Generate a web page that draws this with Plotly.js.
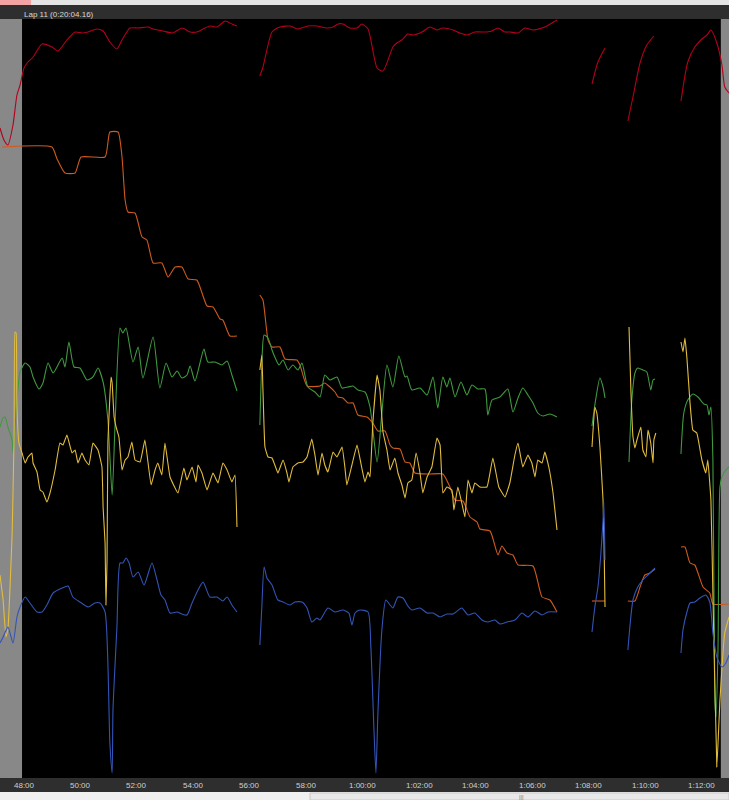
<!DOCTYPE html>
<html>
<head>
<meta charset="utf-8">
<script src="https://cdn.plot.ly/plotly-3.0.1.min.js"></script>
<style>
html,body{margin:0;padding:0;background:#2d2d2d;overflow:hidden;}
#chart{width:729px;height:800px;}
</style>
</head>
<body>
<div id="chart"></div>
<script>
// Session time in minutes; values in normalised channel units (0 = bottom, 759 = top of graph)
const tickMinutes = [48,50,52,54,56,58,60,62,64,66,68,70,72];
const tickLabels = ['48:00','50:00','52:00','54:00','56:00','58:00','1:00:00','1:02:00','1:04:00','1:06:00','1:08:00','1:10:00','1:12:00'];
const lapLabel = 'Lap 11 (0:20:04.16)';

// Red channel (speed)
const redT = [47.15,47.29,47.43,47.61,47.75,47.86,48.00,48.11,48.32,48.64,48.99,49.20,49.52,49.81,50.05,50.27,50.58,50.80,51.04,51.29,51.47,51.75,52.04,52.39,52.57,52.92,53.27,53.59,53.88,54.12,54.34,54.58,54.83,55.12,55.36,55.54,
 55.9,
 56.35,56.46,56.78,57.06,57.42,57.70,58.05,58.37,58.73,58.94,59.12,59.29,59.54,59.79,59.96,60.18,60.50,60.71,61.06,61.20,61.38,61.59,61.77,62.09,62.37,62.62,62.83,63.19,63.43,63.68,63.96,64.39,64.57,64.78,65.03,65.20,65.49,65.73,66.02,66.34,66.51,66.87,
 67.5,
 68.11,68.32,68.57,
 69.0,
 69.38,69.56,69.81,70.05,70.30,
 70.8,
 71.26,71.50,71.75,72.00,72.18,72.32,72.53,72.71,72.81,72.96];
const redV = [650,638,633,653,683,693,710,715,721,734,731,727,738,746,745,746,749,747,736,729,738,750,750,751,749,747,745,750,746,746,749,752,751,757,754,752,
 null,
 702,711,746,751,752,749,752,752,750,751,754,754,750,750,754,749,710,707,731,735,738,744,743,746,751,748,750,748,745,743,746,746,747,750,746,746,745,750,748,750,752,758,
 null,
 694,716,730,
 null,
 657,681,715,733,742,
 null,
 677,716,731,739,743,748,735,713,691,685];

// Orange channel (stepped)
const orangeT = [47.22,48.99,49.17,49.45,49.81,50.02,50.87,51.04,51.33,51.47,51.58,51.68,51.93,52.18,52.35,52.57,52.88,53.10,53.35,53.59,53.81,54.12,54.48,54.69,54.94,55.04,55.29,55.54,
 55.9,
 56.35,56.46,56.64,56.78,57.06,57.24,57.66,57.77,58.02,58.48,58.65,58.83,59.01,59.12,59.29,59.47,59.65,59.82,60.14,60.35,60.53,60.78,60.96,61.06,61.31,61.49,61.66,61.84,62.37,62.83,63.08,63.26,63.54,63.79,64.04,64.14,64.50,64.78,64.92,65.10,65.31,65.49,66.02,66.34,66.62,66.87,
 67.5,
 68.11,68.57,
 69.0,
 69.38,69.63,69.81,69.98,70.16,70.34,
 70.8,
 71.26,71.40,71.58,71.75,72.04,72.28,72.39,72.96];
const orangeV = [631,631,619,605,605,621,621,646,646,621,578,566,565,541,538,515,515,501,511,511,499,498,472,471,459,458,442,442,
 null,
 483,478,438,431,431,419,418,413,392,392,395,391,386,381,380,375,375,363,361,355,347,347,333,330,329,316,315,305,304,304,291,278,277,261,256,249,247,223,232,225,223,213,212,181,178,166,
 null,
 177,177,
 null,
 177,177,191,203,205,209,
 null,
 231,231,215,213,191,185,174,174];

// Green channel
const greenT = [47.15,47.26,47.33,47.43,47.58,47.61,47.75,47.86,48.04,48.21,48.32,48.53,48.67,48.85,49.03,49.35,49.45,49.59,49.77,49.98,50.23,50.44,50.62,50.80,50.97,51.12,51.22,51.40,51.50,51.61,51.86,52.04,52.21,52.57,52.81,53.03,53.24,53.42,53.59,53.77,53.88,54.05,54.23,54.37,54.51,54.76,55.01,55.19,55.36,55.54,
 55.9,
 56.35,56.42,56.50,56.64,56.78,56.88,57.03,57.17,57.35,57.52,57.70,57.84,58.05,58.30,58.48,58.65,58.83,59.08,59.26,59.47,59.65,59.82,60.07,60.25,60.50,60.67,60.85,61.06,61.27,61.49,61.56,61.73,62.02,62.27,62.48,62.65,62.83,62.97,63.08,63.26,63.47,63.68,63.86,64.07,64.32,64.42,64.57,64.85,65.13,65.31,65.49,65.66,65.84,66.02,66.19,66.37,66.62,66.87,
 67.5,
 68.11,68.21,68.39,68.50,68.57,
 69.0,
 69.42,69.52,69.63,69.73,69.91,70.05,70.19,70.27,70.34,
 70.8,
 71.26,71.36,71.50,71.68,71.86,72.07,72.18,72.25,72.32,72.39,72.46,72.50,72.57,72.64,72.71,72.85,72.96];
const greenV = [351,360,361,351,338,326,378,406,415,411,401,389,395,415,405,420,411,436,411,410,398,401,410,396,358,283,351,450,445,450,416,431,400,441,390,415,401,407,400,403,412,397,415,429,416,416,413,417,403,387,
 null,
 353,415,443,440,428,421,413,418,408,413,408,415,391,386,381,403,398,401,390,391,392,388,386,371,316,365,413,391,422,401,402,388,390,383,401,370,401,391,400,381,396,383,393,389,389,363,378,381,389,366,380,390,383,375,365,362,364,361,
 null,
 352,373,400,391,380,
 null,
 316,378,405,410,408,406,388,398,399,
 null,
 324,365,378,384,381,374,373,363,371,318,78,61,128,291,301,308,311];

// Yellow channel
const yellowT = [47.15,47.26,47.36,47.43,47.58,47.65,47.68,47.72,47.75,47.82,47.93,48.04,48.14,48.28,48.32,48.46,48.57,48.67,48.81,48.92,49.10,49.27,49.38,49.52,49.70,49.81,49.91,50.05,50.16,50.30,50.44,50.62,50.76,50.80,50.87,50.90,50.94,50.97,51.08,51.12,51.19,51.26,51.36,51.47,51.58,51.68,51.82,51.93,52.11,52.28,52.50,52.64,52.74,52.88,52.99,53.17,53.45,53.66,53.77,53.95,54.09,54.16,54.30,54.48,54.69,54.87,55.04,55.19,55.36,55.47,55.54,
 55.9,
 56.35,56.42,56.46,56.53,56.64,56.78,56.88,56.99,57.17,57.31,57.38,57.52,57.70,57.88,58.02,58.19,58.30,58.41,58.55,58.65,58.76,58.94,59.08,59.26,59.36,59.43,59.61,59.79,59.96,60.07,60.18,60.25,60.35,60.50,60.60,60.71,60.85,60.96,61.13,61.24,61.38,61.49,61.59,61.73,61.88,62.02,62.12,62.27,62.44,62.62,62.73,62.83,62.97,63.15,63.22,63.36,63.50,63.61,63.72,63.86,63.96,64.14,64.39,64.60,64.81,65.03,65.20,65.38,65.49,65.66,65.84,65.98,66.09,66.19,66.34,66.44,66.58,66.73,66.87,
 67.5,
 68.11,68.21,68.28,68.39,68.50,68.53,68.57,
 69.0,
 69.42,69.49,69.56,69.63,69.70,69.84,69.91,70.02,70.09,70.19,70.27,70.30,70.37,
 70.8,
 71.26,71.33,71.40,71.47,71.58,71.68,71.82,72.00,72.14,72.21,72.32,72.39,72.53,72.64,72.81,72.96];
const yellowV = [203,178,141,148,245,345,446,445,371,335,325,315,321,325,315,306,288,286,276,285,308,335,333,343,325,328,315,325,318,313,335,328,311,271,235,173,218,335,401,395,361,351,341,308,318,321,336,318,316,338,293,308,315,303,335,301,285,310,298,311,296,313,305,288,305,295,315,308,296,303,251,
 null,
 408,423,388,331,321,320,313,305,318,305,296,311,315,316,321,339,323,303,325,313,306,326,321,331,311,293,313,333,310,296,306,301,355,403,388,346,328,308,320,305,293,280,295,298,325,305,285,301,311,340,333,285,291,288,268,291,275,261,298,285,295,291,291,320,291,281,295,323,335,311,323,315,301,318,315,326,311,285,248,
 null,
 331,371,365,331,278,245,171,
 null,
 451,385,341,330,338,351,328,321,348,335,315,338,345,
 null,
 436,426,440,420,375,348,345,318,305,318,278,185,11,78,145,161];

// Blue channel
const blueT = [47.15,47.26,47.43,47.61,47.75,47.86,48.04,48.21,48.46,48.64,48.81,49.03,49.35,49.56,49.73,49.98,50.27,50.51,50.69,50.87,51.04,51.12,51.15,51.29,51.40,51.50,51.61,51.72,51.86,52.04,52.25,52.53,52.71,52.85,52.99,53.17,53.42,53.59,53.77,53.95,54.16,54.34,54.58,54.83,55.04,55.19,55.36,55.54,
 55.9,
 56.35,56.42,56.50,56.60,56.78,56.99,57.17,57.42,57.59,57.84,58.02,58.19,58.37,58.48,58.76,59.01,59.29,59.50,59.61,59.72,59.89,60.18,60.28,60.39,60.46,60.53,60.67,60.81,60.96,61.06,61.24,61.42,61.59,61.73,62.02,62.27,62.48,62.73,62.97,63.19,63.50,63.72,63.96,64.21,64.42,64.67,64.85,65.10,65.38,65.63,65.84,66.09,66.34,66.55,66.87,
 67.5,
 68.11,68.21,68.32,68.42,68.50,68.53,68.57,
 69.0,
 69.38,69.45,69.56,69.73,69.91,70.09,70.34,
 70.8,
 71.26,71.33,71.47,71.58,71.75,71.93,72.14,72.28,72.39,72.53,72.71,72.85,72.96];
const blueV = [135,141,151,135,161,171,181,175,166,166,173,185,190,192,181,176,171,175,175,166,35,5,68,151,215,215,220,215,201,206,193,215,198,183,178,165,166,164,163,175,188,196,181,181,177,181,173,166,
 null,
 133,171,211,200,193,178,176,173,176,176,170,156,160,158,170,166,168,165,153,165,168,166,131,48,5,65,148,178,173,170,181,180,172,168,170,165,165,161,164,164,170,163,165,158,156,158,154,156,158,165,161,167,163,166,166,
 null,
 146,171,191,223,258,276,218,
 null,
 128,151,178,191,198,203,210,
 null,
 125,148,166,175,176,180,183,176,145,121,111,115,123];

const lineW = 1.1;
const series = [
  {x: orangeT, y: orangeV, color: '#cf5a1e', smooth: 0.5},
  {x: redT, y: redV, color: '#b3001b', smooth: 0.6},
  {x: greenT, y: greenV, color: '#3f9a3f', smooth: 0.6},
  {x: yellowT, y: yellowV, color: '#e2bd3e', smooth: 0.3},
  {x: blueT, y: blueV, color: '#3354b5', smooth: 0.6}
];
const traces = series.map(s => ({
  type: 'scatter', mode: 'lines', x: s.x, y: s.y,
  line: {color: s.color, width: lineW, shape: 'spline', smoothing: s.smooth},
  connectgaps: false, hoverinfo: 'skip', showlegend: false
}));

const plotTop = 19, plotBottom = 778, H = 800, W = 729;
const ph = plotBottom - plotTop;
function py(pix){ return (plotBottom - pix) / ph; } // pixel row -> paper fraction (for chrome only)
const uiFont = 'Liberation Sans, Arial, sans-serif';

const tickAnnotations = tickMinutes.map((m, i) => ({
  xref: 'x', yref: 'paper', x: m, y: py(785), xanchor: 'center', yanchor: 'middle',
  showarrow: false, text: tickLabels[i], font: {family: uiFont, size: 8, color: '#cfcfcf'}
}));

const layout = {
  width: W, height: H,
  margin: {l: 0, r: 0, t: plotTop, b: H - plotBottom, pad: 0},
  paper_bgcolor: '#2e2e2e',
  plot_bgcolor: '#000000',
  showlegend: false,
  xaxis: {
    range: [47.15, 72.96], tickvals: tickMinutes, ticktext: tickLabels,
    showticklabels: false, showgrid: false, zeroline: false, showline: false, ticks: '',
    fixedrange: true
  },
  yaxis: {range: [0, 759], visible: false, showgrid: false, zeroline: false, fixedrange: true},
  shapes: [
    // grey side bands
    {type: 'rect', xref: 'x', yref: 'paper', x0: 47.0, x1: 47.93, y0: 0, y1: 1, fillcolor: '#888888', line: {width: 0}, layer: 'below'},
    {type: 'rect', xref: 'x', yref: 'paper', x0: 72.67, x1: 73.2, y0: 0, y1: 1, fillcolor: '#888888', line: {width: 0}, layer: 'below'},
    // top light strip & tab
    {type: 'rect', xref: 'paper', yref: 'paper', x0: 0, x1: 1, y0: py(5), y1: py(0), fillcolor: '#e4e4e4', line: {width: 0}},
    {type: 'rect', xref: 'paper', yref: 'paper', x0: 0, x1: 31/W, y0: py(5), y1: py(0), fillcolor: '#f3a3a3', line: {width: 0}},
    // bottom scrollbar
    {type: 'rect', xref: 'paper', yref: 'paper', x0: 0, x1: 1, y0: py(800), y1: py(792), fillcolor: '#f0f0f0', line: {width: 0}},
    {type: 'rect', xref: 'paper', yref: 'paper', x0: 310/W, x1: 1, y0: py(800), y1: py(793), fillcolor: '#e8e8e8', line: {width: 1, color: '#c8c8c8'}}
  ],
  annotations: [
    {xref: 'paper', yref: 'paper', x: 22/W, y: py(15), xanchor: 'left', yanchor: 'middle', showarrow: false,
     text: lapLabel, font: {family: uiFont, size: 8, color: '#d8d8d8'}},
    {xref: 'paper', yref: 'paper', x: 521/W, y: py(797), xanchor: 'center', yanchor: 'middle', showarrow: false,
     text: '|||', font: {family: uiFont, size: 6, color: '#777777'}}
  ].concat(tickAnnotations)
};

Plotly.newPlot('chart', traces, layout, {staticPlot: true, displayModeBar: false});
</script>
</body>
</html>
